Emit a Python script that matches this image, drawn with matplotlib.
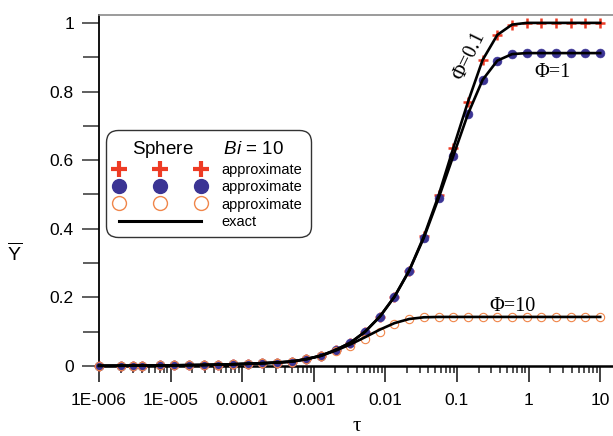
import matplotlib
matplotlib.use("Agg")
import matplotlib.pyplot as plt
from matplotlib.lines import Line2D
from matplotlib.ticker import FixedLocator, FixedFormatter, LogLocator, NullFormatter, MultipleLocator

plt.rcParams['font.family'] = ['Liberation Sans', 'DejaVu Sans']
plt.rcParams['mathtext.fontset'] = 'custom'
plt.rcParams['mathtext.rm'] = 'Liberation Sans'
plt.rcParams['mathtext.it'] = 'Liberation Sans:italic'
plt.rcParams['mathtext.sf'] = 'Liberation Sans'

# ---------------- data ----------------
tau = [1e-6, 2e-6, 3e-6, 4e-6,
       7.0e-6, 1.12e-5, 1.80e-5, 2.89e-5, 4.63e-5, 7.43e-5, 1.19e-4, 1.91e-4,
       3.06e-4, 4.92e-4, 7.88e-4, 1.26e-3, 2.03e-3, 3.25e-3, 5.21e-3, 8.37e-3,
       1.34e-2, 2.15e-2, 3.45e-2, 5.53e-2, 8.87e-2, 0.142, 0.228, 0.366, 0.587,
       0.942, 1.51, 2.42, 3.89, 6.23, 10.0]

y_phi01 = [0.0006, 0.0008, 0.001, 0.0012,
           0.0016, 0.002, 0.0025, 0.003, 0.004, 0.005, 0.0065, 0.008,
           0.010, 0.013, 0.020, 0.030, 0.047, 0.068, 0.100, 0.144,
           0.202, 0.278, 0.378, 0.497, 0.635, 0.769, 0.892, 0.965, 0.995,
           1.0, 1.0, 1.0, 1.0, 1.0, 1.0]

y_phi1 = [0.0006, 0.0008, 0.001, 0.0012,
          0.0016, 0.002, 0.0025, 0.003, 0.004, 0.005, 0.0065, 0.008,
          0.010, 0.013, 0.020, 0.030, 0.047, 0.068, 0.100, 0.144,
          0.202, 0.278, 0.374, 0.489, 0.612, 0.734, 0.834, 0.890, 0.909,
          0.912, 0.912, 0.912, 0.912, 0.912, 0.912]

y_phi10 = [0.0006, 0.0008, 0.001, 0.0012,
           0.0016, 0.002, 0.0025, 0.003, 0.004, 0.005, 0.0065, 0.008,
           0.010, 0.013, 0.020, 0.030, 0.043, 0.058, 0.078, 0.100,
           0.122, 0.136, 0.142, 0.143, 0.143, 0.143, 0.143, 0.143, 0.143,
           0.143, 0.143, 0.143, 0.143, 0.143, 0.143]

exact_phi01 = y_phi01
exact_phi1 = y_phi1
exact_phi10 = [0.0006, 0.0008, 0.001, 0.0012,
               0.0016, 0.002, 0.0025, 0.003, 0.004, 0.005, 0.0065, 0.008,
               0.010, 0.013, 0.020, 0.030, 0.045, 0.063, 0.084, 0.106,
               0.125, 0.137, 0.142, 0.143, 0.143, 0.143, 0.143, 0.143, 0.143,
               0.143, 0.143, 0.143, 0.143, 0.143, 0.143]

xtick_vals = [1e-6, 1e-5, 1e-4, 1e-3, 1e-2, 1e-1, 1, 10]
xtick_labels = ["1E-006", "1E-005", "0.0001", "0.001", "0.01", "0.1", "1", "10"]
ytick_vals = [0, 0.2, 0.4, 0.6, 0.8, 1.0]
ytick_labels = ["0", "0.2", "0.4", "0.6", "0.8", "1"]

RED = '#EE3B24'
BLUE = '#3B3494'
ORANGE = '#F0864A'

fig = plt.figure(figsize=(6.13, 4.36), dpi=100)
ax = fig.add_axes([99 / 613, 70 / 436, 514 / 613, 351 / 436])
ax.set_xscale('log')
ax.set_xlim(1e-6, 15.1)
ax.set_ylim(0, 1.023)

# markers
ax.plot(tau, y_phi01, ls='none', marker='+', ms=7.5, mew=1.8, color=RED,
        clip_on=False, zorder=3)
ax.plot(tau, y_phi1, ls='none', marker='o', ms=6.4, mec=BLUE, mfc=BLUE, mew=0.4,
        clip_on=False, zorder=3)
ax.plot(tau, y_phi10, ls='none', marker='o', ms=6.0, mfc='none', mec=ORANGE,
        mew=0.8, clip_on=False, zorder=3.5)

# exact lines
for yy in (exact_phi01, exact_phi1, exact_phi10):
    ax.plot(tau, yy, color='black', lw=1.9, clip_on=False, zorder=4,
            solid_joinstyle='round')

# spines
ax.spines['right'].set_visible(False)
ax.spines['top'].set_color('#8a8a8a')
ax.spines['top'].set_linewidth(1.2)
ax.spines['left'].set_linewidth(1.3)
ax.spines['bottom'].set_linewidth(1.8)

# ticks
ax.xaxis.set_major_locator(FixedLocator(xtick_vals))
ax.xaxis.set_major_formatter(FixedFormatter(xtick_labels))
ax.xaxis.set_minor_locator(LogLocator(base=10, subs=[2, 3, 4, 5, 6, 7, 8, 9], numticks=20))
ax.xaxis.set_minor_formatter(NullFormatter())
ax.yaxis.set_major_locator(FixedLocator(ytick_vals))
ax.yaxis.set_major_formatter(FixedFormatter(ytick_labels))
ax.yaxis.set_minor_locator(MultipleLocator(0.1))

ax.tick_params(axis='x', which='major', direction='out', length=11.5, width=1.2,
               color='#222222', labelsize=12.5, pad=8)
ax.tick_params(axis='x', which='minor', direction='out', length=5, width=1.1,
               color='#222222')
ax.tick_params(axis='y', which='major', direction='out', length=12, width=1.1,
               color='#333333', labelsize=12.5, pad=6)
ax.tick_params(axis='y', which='minor', direction='out', length=11.5, width=1.1,
               color='#333333')
ax.tick_params(top=False, right=False, which='both')

# axis labels
fig.text(357 / 613, 1 - 426 / 436, 'τ', family='Liberation Serif', fontsize=15,
         ha='center', va='center')
fig.text(15 / 613, 1 - 253 / 436, r'$\overline{\mathrm{Y}}$', fontsize=14,
         ha='center', va='center')

# annotations
ax.text(0.150, 0.905, 'Φ=0.1', family='Liberation Serif', fontsize=14.5,
        rotation=64, ha='center', va='center', zorder=5)
ax.text(2.19, 0.855, 'Φ=1', family='Liberation Serif', fontsize=14.5,
        ha='center', va='center', zorder=5)
ax.text(0.605, 0.172, 'Φ=10', family='Liberation Serif', fontsize=14.5,
        ha='center', va='center', zorder=5)

# legend
handles = [
    Line2D([], [], ls='none', marker='+', ms=11, mew=3, color=RED),
    Line2D([], [], ls='none', marker='o', ms=10, mfc=BLUE, mec=BLUE),
    Line2D([], [], ls='none', marker='o', ms=10, mfc='none', mec=ORANGE, mew=1),
    Line2D([], [], color='black', lw=2.2),
]
labels = ['approximate', 'approximate', 'approximate', 'exact']
leg = ax.legend(handles, labels, numpoints=3, loc='upper left',
                bbox_to_anchor=(0.0136, 0.672), borderaxespad=0,
                fontsize=10.5,
                title='Sphere      $\\mathit{Bi}$ = 10', title_fontsize=13.5,
                handlelength=6.2, handletextpad=1.1, labelspacing=0.22,
                borderpad=0.6, frameon=True, fancybox=True, framealpha=1,
                edgecolor='#333333')
leg.get_frame().set_linewidth(1.0)
leg.get_frame().set_boxstyle('round', pad=0, rounding_size=0.8)
leg.set_zorder(6)

fig.savefig('out.png', dpi=100)
